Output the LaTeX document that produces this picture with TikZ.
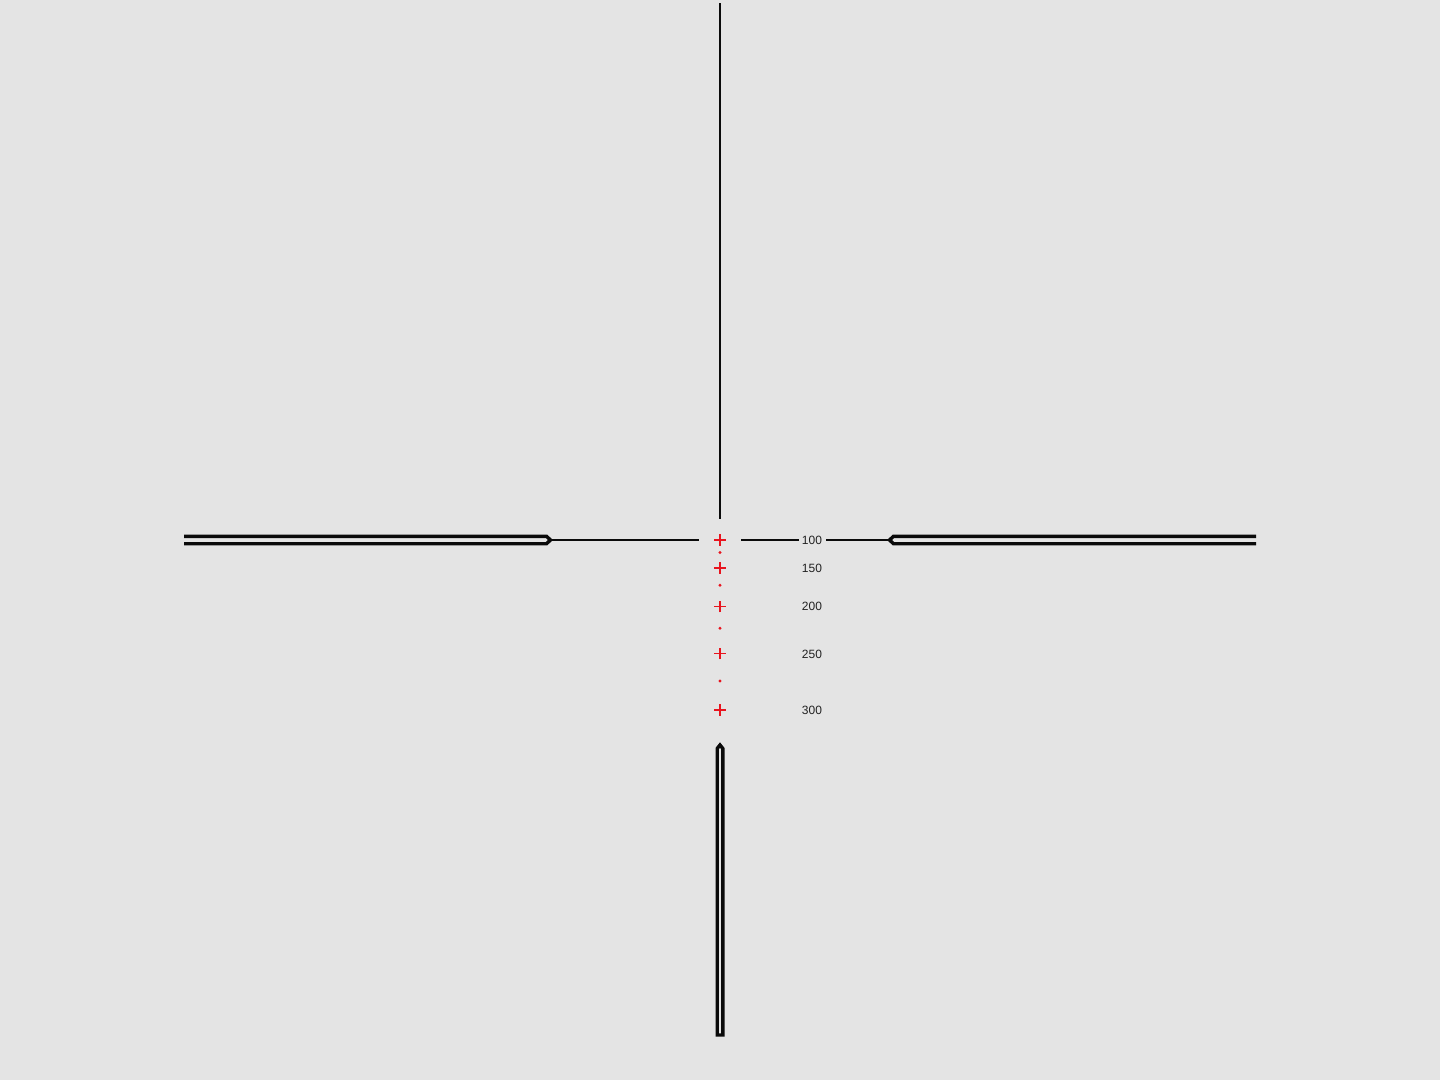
\documentclass[tikz,border=0pt]{standalone}
\usepackage{fontspec}
\setmainfont{Liberation Sans}
\definecolor{bg}{HTML}{E4E4E4}
\definecolor{ret}{HTML}{E8141E}
\definecolor{ink}{HTML}{0A0A0A}
\definecolor{lbl}{HTML}{222222}
\tikzset{
  thinwire/.style={draw=ink, line width=2.2pt},
  barwire/.style={draw=ink, line width=3.4pt, line join=miter},
  redcross/.style={draw=ret, line width=1.8pt},
  reddot/.style={fill=ret},
  rangelbl/.style={text=lbl, font=\fontsize{12}{13}\selectfont, inner sep=0pt, anchor=center}
}
\begin{document}
\begin{tikzpicture}[x=1pt,y=-1pt]
\fill[bg] (0,0) rectangle (1440,1080);
\useasboundingbox (0,0) rectangle (1440,1080);
% top thin post
\coordinate (topA) at (720,3);
\coordinate (topB) at (720,519);
\draw[thinwire] (topA) -- (topB);
% left thin wire
\coordinate (lthinA) at (551,540);
\coordinate (lthinB) at (699,540);
\draw[thinwire] (lthinA) -- (lthinB);
% right thin wire with label gap
\coordinate (rthinA) at (741,540);
\coordinate (rthinB) at (799,540);
\coordinate (rthinC) at (826,540);
\coordinate (rthinD) at (890,540);
\draw[thinwire] (rthinA) -- (rthinB);
\draw[thinwire] (rthinC) -- (rthinD);
% left thick bar (open outer end)
\draw[barwire] (184,536.3) -- (546.5,536.3) -- (550.5,540) -- (546.5,543.7) -- (184,543.7);
% right thick bar
\draw[barwire] (1256,536.3) -- (893.5,536.3) -- (889.5,540) -- (893.5,543.7) -- (1256,543.7);
% bottom thick post (closed bottom)
\draw[barwire] (717.2,1035) -- (717.2,748.5) -- (720,745) -- (722.8,748.5) -- (722.8,1035) -- cycle;
% red crosses
\foreach \yy/\nm in {540/c100,568/c150,606.5/c200,653.5/c250,710/c300}{
  \coordinate (\nm) at (720,\yy);
  \draw[redcross] ([xshift=-6pt]\nm) -- ([xshift=6pt]\nm);
  \draw[redcross] ([yshift=-5.8pt]\nm) -- ([yshift=5.8pt]\nm);
}
% red dots
\foreach \yy/\nm in {552.5/d1,585.3/d2,628.3/d3,681/d4}{
  \coordinate (\nm) at (720,\yy);
  \fill[reddot] (\nm) circle (1.6pt);
}
% labels
\node[rangelbl] (l100) at (812,540.5) {100};
\node[rangelbl] (l150) at (812,568.5) {150};
\node[rangelbl] (l200) at (812,606.5) {200};
\node[rangelbl] (l250) at (812,654) {250};
\node[rangelbl] (l300) at (812,710.5) {300};
\end{tikzpicture}
\end{document}
